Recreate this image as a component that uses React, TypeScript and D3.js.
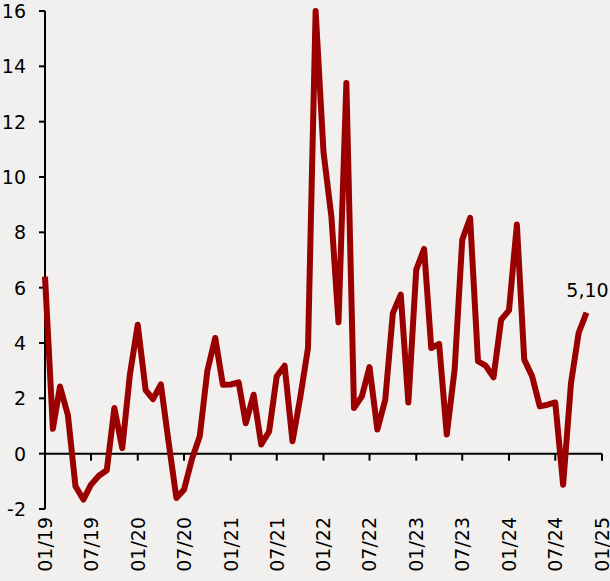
import React, { useEffect, useRef } from 'react';
import * as d3 from 'd3';

// monthly values, 01/19 .. 11/24
const startMonth = new Date(2019, 0, 1);
const values = [
  6.4, 0.9, 2.43, 1.4, -1.18, -1.66, -1.12, -0.8, -0.6, 1.65, 0.2, 2.85,
  4.66, 2.3, 1.97, 2.5, 0.45, -1.6, -1.3, -0.2, 0.63, 3.0, 4.18, 2.49,
  2.5, 2.58, 1.1, 2.13, 0.33, 0.8, 2.8, 3.18, 0.45, 2.0, 3.82, 16.0,
  10.9, 8.58, 4.75, 13.4, 1.65, 2.07, 3.13, 0.87, 1.95, 5.08, 5.75, 1.85,
  6.65, 7.4, 3.82, 3.97, 0.69, 3.04, 7.73, 8.52, 3.34, 3.18, 2.76, 4.84,
  5.18, 8.28, 3.4, 2.8, 1.71, 1.77, 1.85, -1.12, 2.55, 4.36, 5.1,
];
const yTicks = [-2, 0, 2, 4, 6, 8, 10, 12, 14, 16];
const xTickLabels = ['01/19', '07/19', '01/20', '07/20', '01/21', '07/21', '01/22', '07/22', '01/23', '07/23', '01/24', '07/24', '01/25'];
const lastLabel = '5,10';

const W = 610;
const H = 581;
const font = '"DejaVu Sans", sans-serif';

const App = () => {
  const ref = useRef<SVGSVGElement>(null);

  useEffect(() => {
    const svg = d3.select(ref.current);
    svg.selectAll('*').remove();

    const data = values.map((v, i) => ({ date: d3.timeMonth.offset(startMonth, i), v }));
    const x = d3.scaleTime().domain([startMonth, new Date(2025, 0, 1)]).range([45, 602]);
    const y = d3.scaleLinear().domain([-2, 16]).range([509, 11]);

    // y axis
    const yAxis = svg.append('g').attr('transform', 'translate(45,0)');
    yAxis.append('line').attr('y1', y(-2)).attr('y2', y(16)).attr('stroke', '#000').attr('stroke-width', 2);
    yTicks.forEach((t) => {
      yAxis.append('line').attr('x1', -6).attr('x2', 0).attr('y1', y(t)).attr('y2', y(t)).attr('stroke', '#000').attr('stroke-width', 2);
      yAxis
        .append('text')
        .attr('x', -19)
        .attr('y', y(t))
        .attr('dy', '0.36em')
        .attr('text-anchor', 'end')
        .style('font-family', font)
        .style('font-size', '19px')
        .attr('fill', '#000')
        .text(t);
    });

    // x axis on zero line
    const xAxis = svg.append('g');
    xAxis.append('line').attr('x1', x.range()[0]).attr('x2', x.range()[1]).attr('y1', y(0)).attr('y2', y(0)).attr('stroke', '#000').attr('stroke-width', 2);
    xTickLabels.forEach((lab, i) => {
      const xx = x(d3.timeMonth.offset(startMonth, i * 6));
      if (i > 0) {
        xAxis.append('line').attr('x1', xx).attr('x2', xx).attr('y1', y(0)).attr('y2', y(0) + 7).attr('stroke', '#000').attr('stroke-width', 2);
      }
      xAxis
        .append('text')
        .attr('transform', `translate(${xx},${y(-2) + 8}) rotate(-90)`)
        .attr('dy', '0.36em')
        .attr('text-anchor', 'end')
        .style('font-family', font)
        .style('font-size', '19px')
        .attr('fill', '#000')
        .text(lab);
    });

    const line = d3
      .line<{ date: Date; v: number }>()
      .x((d) => x(d.date))
      .y((d) => y(d.v));

    svg
      .append('path')
      .datum(data)
      .attr('d', line)
      .attr('fill', 'none')
      .attr('stroke', '#9a0000')
      .attr('stroke-width', 6)
      .attr('stroke-linejoin', 'round');

    const last = data[data.length - 1];
    svg
      .append('text')
      .attr('x', x(last.date) + 1)
      .attr('y', y(last.v) - 16)
      .attr('text-anchor', 'middle')
      .style('font-family', font)
      .style('font-size', '19px')
      .attr('fill', '#000')
      .text(lastLabel);
  }, []);

  return (
    <div style={{ position: 'fixed', left: 0, top: 0, width: W, height: H, background: '#f2f0ef' }}>
      <svg ref={ref} width={W} height={H} style={{ display: 'block' }} />
    </div>
  );
};

export default App;
